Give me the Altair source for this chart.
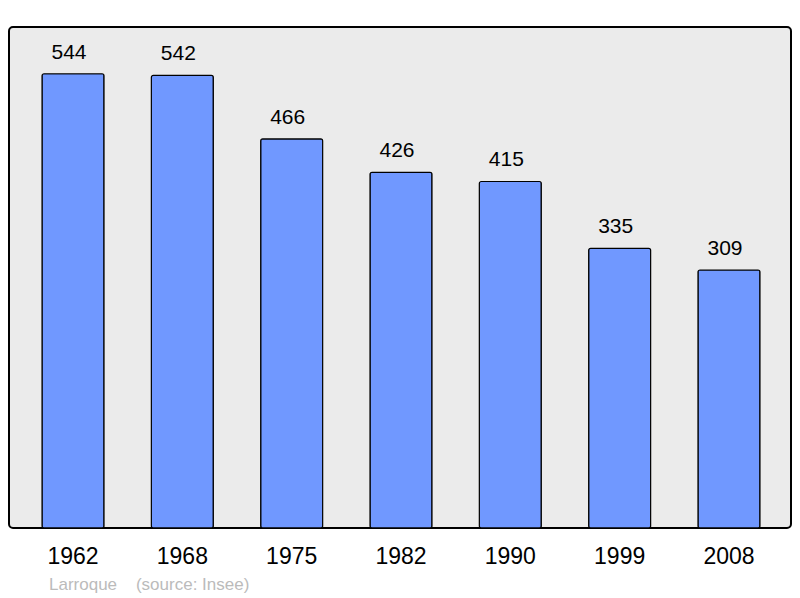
import altair as alt
import pandas as pd

years = ["1962", "1968", "1975", "1982", "1990", "1999", "2008"]
population = [544, 542, 466, 426, 415, 335, 309]
footer = "Larroque\u00a0\u00a0\u00a0\u00a0(source: Insee)"

df = pd.DataFrame({"year": years, "pop": population})

x = alt.X("year:N", sort=years, title=None,
          scale=alt.Scale(paddingInner=0.433, paddingOuter=0.293),
          axis=alt.Axis(domain=False, ticks=False, tickSize=0, labelAngle=0,
                        labelFontSize=23, labelFont="Liberation Sans",
                        labelColor="#000000", labelPadding=17, labelOffset=1))
y = alt.Y("pop:Q", scale=alt.Scale(domain=[0, 600], nice=False), axis=None, title=None)

bars = alt.Chart(df).mark_bar(color="#7098ff", stroke="#000000", strokeWidth=1.2,
                              cornerRadius=2, xOffset=1).encode(x=x, y=y)
labels = alt.Chart(df).mark_text(baseline="alphabetic", dy=-15, dx=-3, fontSize=21,
                                 font="Liberation Sans", color="#000000").encode(
    x=x, y=y, text="pop:Q")

chart = alt.layer(bars, labels).properties(
    width=782, height=501,
    autosize=alt.AutoSizeParams(type="none"),
    padding={"left": 1, "top": 19, "right": 1, "bottom": 70},
    title=alt.TitleParams(text=footer, orient="bottom", anchor="start", dx=40,
                          offset=9, fontSize=17, fontWeight="normal",
                          font="Liberation Sans", color="#bbbbbb"),
).configure_view(fill="#ebebeb", stroke="#000000", strokeWidth=2, cornerRadius=4)

chart.save("out.html", embed_options={"renderer": "svg", "actions": False})
